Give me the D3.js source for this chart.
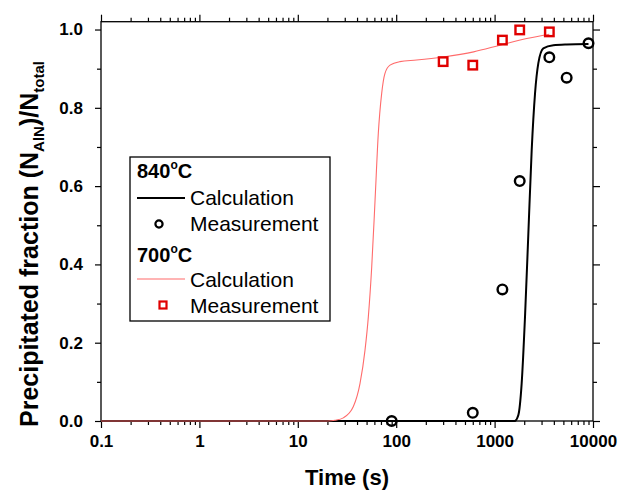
<!DOCTYPE html>
<html>
<head>
<meta charset="utf-8">
<script src="https://cdn.jsdelivr.net/npm/d3@7"></script>
<style>
  body { margin: 0; background: #fff; }
  svg { display: block; font-family: "Liberation Sans", Arial, sans-serif; }
</style>
</head>
<body>
<script>
// ---- data ----
const xMajor = [0.1, 1, 10, 100, 1000, 10000];
const xLabels = ["0.1", "1", "10", "100", "1000", "10000"];
const yMajor = [0, 0.2, 0.4, 0.6, 0.8, 1.0];
const yLabels = ["0.0", "0.2", "0.4", "0.6", "0.8", "1.0"];
const yMinor = [0.1, 0.3, 0.5, 0.7, 0.9];

// 840 C
const calc840 = [[0.1, 0], [1600, 0], [1742, 0.015], [1884, 0.096], [2037, 0.266], [2203, 0.479],
  [2382, 0.692], [2576, 0.837], [2783, 0.914], [3126, 0.952], [3953, 0.960], [5400, 0.962], [9000, 0.963]];
const meas840 = [[90, 0.0], [600, 0.021], [1200, 0.336], [1800, 0.613], [3600, 0.929], [5400, 0.877], [9000, 0.965]];

// 700 C
const calc700 = [[0.1, 0], [20, 0], [24, 0.002], [29, 0.008], [36.7, 0.037], [42.9, 0.096], [48.2, 0.181],
  [52.1, 0.266], [56.4, 0.394], [61, 0.565], [65.8, 0.735], [71.2, 0.837], [76.9, 0.888], [86.5, 0.909],
  [109, 0.918], [161, 0.922], [300, 0.930], [612, 0.943], [1135, 0.960], [2120, 0.977], [3600, 0.988]];
const meas700 = [[300, 0.918], [600, 0.909], [1200, 0.973], [1800, 0.999], [3600, 0.994]];

const W = 620, H = 491;
const M = { left: 101, right: 593, top: 21.7, bottom: 421 };

const svg = d3.select("body").append("svg")
  .attr("width", W).attr("height", H);

const x = d3.scaleLog().domain([0.1, 10000]).range([M.left, M.right]);
const y = d3.scaleLinear().domain([0, 1.02]).range([M.bottom, M.top]);

// minor ticks on the log axis
const xMinor = [];
xMajor.slice(0, -1).forEach(d => { for (let k = 2; k <= 9; k++) xMinor.push(d * k); });

function styleAxis(g) {
  g.select(".domain").remove();
  g.selectAll(".tick line").attr("stroke", "#000").attr("stroke-width", 1.2);
  g.selectAll("text").attr("font-size", 17).attr("font-weight", "bold").attr("fill", "#000");
}

// ---- X -------------------------
svg.append("g").attr("transform", `translate(0,${M.bottom})`)
  .call(d3.axisBottom(x).tickValues(xMajor).tickSize(7).tickPadding(7)
    .tickFormat((d, i) => xLabels[i]))
  .call(styleAxis);
svg.append("g").attr("transform", `translate(0,${M.bottom})`)
  .call(d3.axisBottom(x).tickValues(xMinor).tickSize(4).tickFormat(""))
  .call(styleAxis);
svg.append("g").attr("transform", `translate(0,${M.top})`)
  .call(d3.axisTop(x).tickValues(xMajor).tickSize(7).tickFormat(""))
  .call(styleAxis);
svg.append("g").attr("transform", `translate(0,${M.top})`)
  .call(d3.axisTop(x).tickValues(xMinor).tickSize(4).tickFormat(""))
  .call(styleAxis);

// ---- Y -------------------------
svg.append("g").attr("transform", `translate(${M.left},0)`)
  .call(d3.axisLeft(y).tickValues(yMajor).tickSize(6).tickPadding(12)
    .tickFormat((d, i) => yLabels[i]))
  .call(styleAxis);
svg.append("g").attr("transform", `translate(${M.left},0)`)
  .call(d3.axisLeft(y).tickValues(yMinor).tickSize(4).tickFormat(""))
  .call(styleAxis);
svg.append("g").attr("transform", `translate(${M.right},0)`)
  .call(d3.axisRight(y).tickValues(yMajor).tickSize(7).tickFormat(""))
  .call(styleAxis);
svg.append("g").attr("transform", `translate(${M.right},0)`)
  .call(d3.axisRight(y).tickValues(yMinor).tickSize(4).tickFormat(""))
  .call(styleAxis);

// frame
svg.append("rect")
  .attr("x", M.left).attr("y", M.top)
  .attr("width", M.right - M.left).attr("height", M.bottom - M.top)
  .attr("fill", "none").attr("stroke", "#000").attr("stroke-width", 1.3);

// ---- curves -------------------------
const line = d3.line().x(d => x(d[0])).y(d => y(d[1])).curve(d3.curveMonotoneX);

svg.append("path").datum(calc840).attr("d", line)
  .attr("fill", "none").attr("stroke", "#000").attr("stroke-width", 2);
svg.append("path").datum(calc700).attr("d", line)
  .attr("fill", "none").attr("stroke", "#ff6b6b").attr("stroke-width", 1.1);

svg.append("g").selectAll("circle").data(meas840).join("circle")
  .attr("cx", d => x(d[0])).attr("cy", d => y(d[1])).attr("r", 4.8)
  .attr("fill", "none").attr("stroke", "#000").attr("stroke-width", 2.4);

const sq = 8.5;
svg.append("g").selectAll("rect").data(meas700).join("rect")
  .attr("x", d => x(d[0]) - sq / 2).attr("y", d => y(d[1]) - sq / 2)
  .attr("width", sq).attr("height", sq)
  .attr("fill", "none").attr("stroke", "#e00000").attr("stroke-width", 2.4);

// ---- legend -------------------------
const lg = svg.append("g");
lg.append("rect").attr("x", 130).attr("y", 157).attr("width", 200).attr("height", 164)
  .attr("fill", "#fff").attr("stroke", "#000").attr("stroke-width", 1.3);

function tempLabel(yy, t) {
  const tx = lg.append("text").attr("x", 137).attr("y", yy)
    .attr("font-size", 20).attr("font-weight", "bold");
  tx.append("tspan").text(t);
  tx.append("tspan").attr("font-size", 12).attr("dy", -9).text("o");
  tx.append("tspan").attr("dy", 9).text("C");
}
function itemText(yy, t) {
  lg.append("text").attr("x", 190).attr("y", yy).attr("font-size", 21).text(t);
}
tempLabel(178, "840");
lg.append("line").attr("x1", 137).attr("x2", 185).attr("y1", 198).attr("y2", 198)
  .attr("stroke", "#000").attr("stroke-width", 2);
itemText(205, "Calculation");
lg.append("circle").attr("cx", 159).attr("cy", 224).attr("r", 3.6)
  .attr("fill", "none").attr("stroke", "#000").attr("stroke-width", 2.2);
itemText(231, "Measurement");
tempLabel(262, "700");
lg.append("line").attr("x1", 137).attr("x2", 185).attr("y1", 279).attr("y2", 279)
  .attr("stroke", "#ff6b6b").attr("stroke-width", 1.1);
itemText(287, "Calculation");
lg.append("rect").attr("x", 159.5).attr("y", 301.5).attr("width", 7).attr("height", 7)
  .attr("fill", "none").attr("stroke", "#e00000").attr("stroke-width", 2.2);
itemText(313, "Measurement");

// ---- axis titles -------------------------
svg.append("text").attr("x", (M.left + M.right) / 2).attr("y", 485)
  .attr("text-anchor", "middle").attr("font-size", 22).attr("font-weight", "bold")
  .text("Time (s)");

const yt = svg.append("text").attr("transform", "translate(38,427) rotate(-90)")
  .attr("font-size", 25).attr("font-weight", "bold");
yt.append("tspan").text("Precipitated fraction (N");
yt.append("tspan").attr("font-size", 15).attr("dy", 6).text("AlN");
yt.append("tspan").attr("dy", -6).text(")/N");
yt.append("tspan").attr("font-size", 15).attr("dy", 6).text("total");
</script>
</body>
</html>
